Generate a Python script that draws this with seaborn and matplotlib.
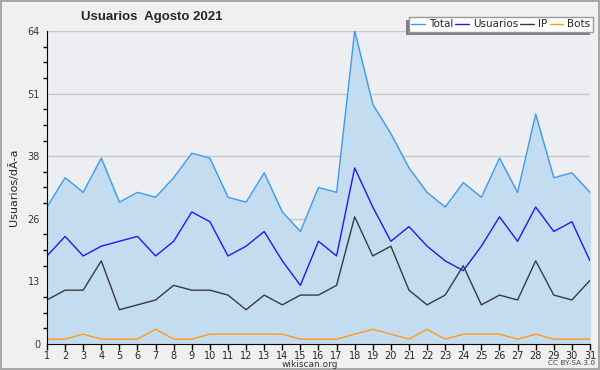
import numpy as np
import pandas as pd
import matplotlib
matplotlib.use("Agg")
import matplotlib.pyplot as plt
from matplotlib.patches import Rectangle
from matplotlib.transforms import IdentityTransform
import seaborn as sns

# datos
dias = list(range(1, 32))
total = [28, 34, 31, 38, 29, 31, 30, 34, 39, 38, 30, 29, 35, 27, 23, 32,
         31, 64, 49, 43, 36, 31, 28, 33, 30, 38, 31, 47, 34, 35, 31]
usuarios = [18, 22, 18, 20, 21, 22, 18, 21, 27, 25, 18, 20, 23, 17, 12, 21,
            18, 36, 28, 21, 24, 20, 17, 15, 20, 26, 21, 28, 23, 25, 17]
ip = [9, 11, 11, 17, 7, 8, 9, 12, 11, 11, 10, 7, 10, 8, 10, 10,
      12, 26, 18, 20, 11, 8, 10, 16, 8, 10, 9, 17, 10, 9, 13]
bots = [1, 1, 2, 1, 1, 1, 3, 1, 1, 2, 2, 2, 2, 2, 1, 1,
        1, 2, 3, 2, 1, 3, 1, 2, 2, 2, 1, 2, 1, 1, 1]
ytick_vals = [0, 12.8, 25.6, 38.4, 51.2, 64]
ytick_labels = ["0", "13", "26", "38", "51", "64"]

df = pd.DataFrame({"dia": dias, "Total": total, "Usuarios": usuarios,
                   "IP": ip, "Bots": bots})
colores = {"Total": "#3d9bf5", "Usuarios": "#1a1aff", "IP": "#3a3a3a", "Bots": "#ff9a1a"}

sns.set_style("white")
plt.rcParams["font.family"] = ["DejaVu Sans"]

fig = plt.figure(figsize=(6, 3.7), dpi=100, facecolor="#f0f0f0",
                 edgecolor="#a8a8a8", linewidth=1.5)
ax = fig.add_axes([0.0783, 0.0703, 0.905, 0.846])
ax.set_facecolor("#eceef1")

ax.fill_between(df["dia"], 0, df["Total"], color="#c4dcf0", zorder=1)
for serie in ["Total", "Usuarios", "IP", "Bots"]:
    sns.lineplot(data=df, x="dia", y=serie, ax=ax, color=colores[serie],
                 linewidth=1, label=serie, zorder=3)

ax.set_xlim(1, 31)
ax.set_ylim(0, 64)
ax.set_xticks(dias)
ax.set_xticklabels([str(d) for d in dias], fontsize=7)
ax.set_yticks(ytick_vals)
ax.set_yticklabels(ytick_labels, fontsize=7, color="#333333")
ax.set_yticks(np.linspace(0, 64, 21), minor=True)
ax.tick_params(axis="both", which="major", length=4, width=1, color="black", pad=1)
ax.tick_params(axis="y", which="minor", length=3, width=1, color="black", left=True)
ax.tick_params(axis="x", bottom=True)
ax.grid(axis="y", color="#c8c8c8", linewidth=1, zorder=0)
ax.set_axisbelow(True)
for s in ["top", "right"]:
    ax.spines[s].set_visible(False)
ax.spines["left"].set_color("black")
ax.spines["bottom"].set_color("black")
ax.spines["left"].set_zorder(5)
ax.spines["bottom"].set_zorder(5)

ax.set_xlabel("")
ax.set_ylabel("Usuarios/dÃ\u00ada", fontsize=8, labelpad=6)

fig.text(0.253, 0.955, "Usuarios  Agosto 2021", fontsize=9.5, fontweight="bold",
         family="Liberation Sans", ha="center", va="center")
fig.text(0.517, 0.014, "wikiscan.org", fontsize=6.5, ha="center", va="center", color="#333333")
fig.text(0.952, 0.018, "CC BY-SA 3.0", fontsize=5.3, ha="center", va="center", color="#444444")

leg = ax.legend(loc="upper right", bbox_to_anchor=(1.0055, 1.045), ncol=4, fontsize=7.5,
                frameon=True, fancybox=False, handlelength=1.3,
                handletextpad=0.4, columnspacing=0.2,
                borderpad=0.25, borderaxespad=0)
leg.get_frame().set_edgecolor("#999999")
leg.get_frame().set_facecolor("white")
leg.get_frame().set_alpha(1)
leg.set_zorder(6)

# sombra de la leyenda hacia abajo a la izquierda
fig.canvas.draw()
bb = leg.get_window_extent()
sombra = Rectangle((bb.x0 - 3, bb.y0 - 3), bb.width, bb.height, transform=IdentityTransform(),
                   facecolor="#808080", edgecolor="none", zorder=5.5, clip_on=False)
ax.add_artist(sombra)

fig.savefig("out.png", dpi=100, facecolor=fig.get_facecolor(), edgecolor=fig.get_edgecolor())
